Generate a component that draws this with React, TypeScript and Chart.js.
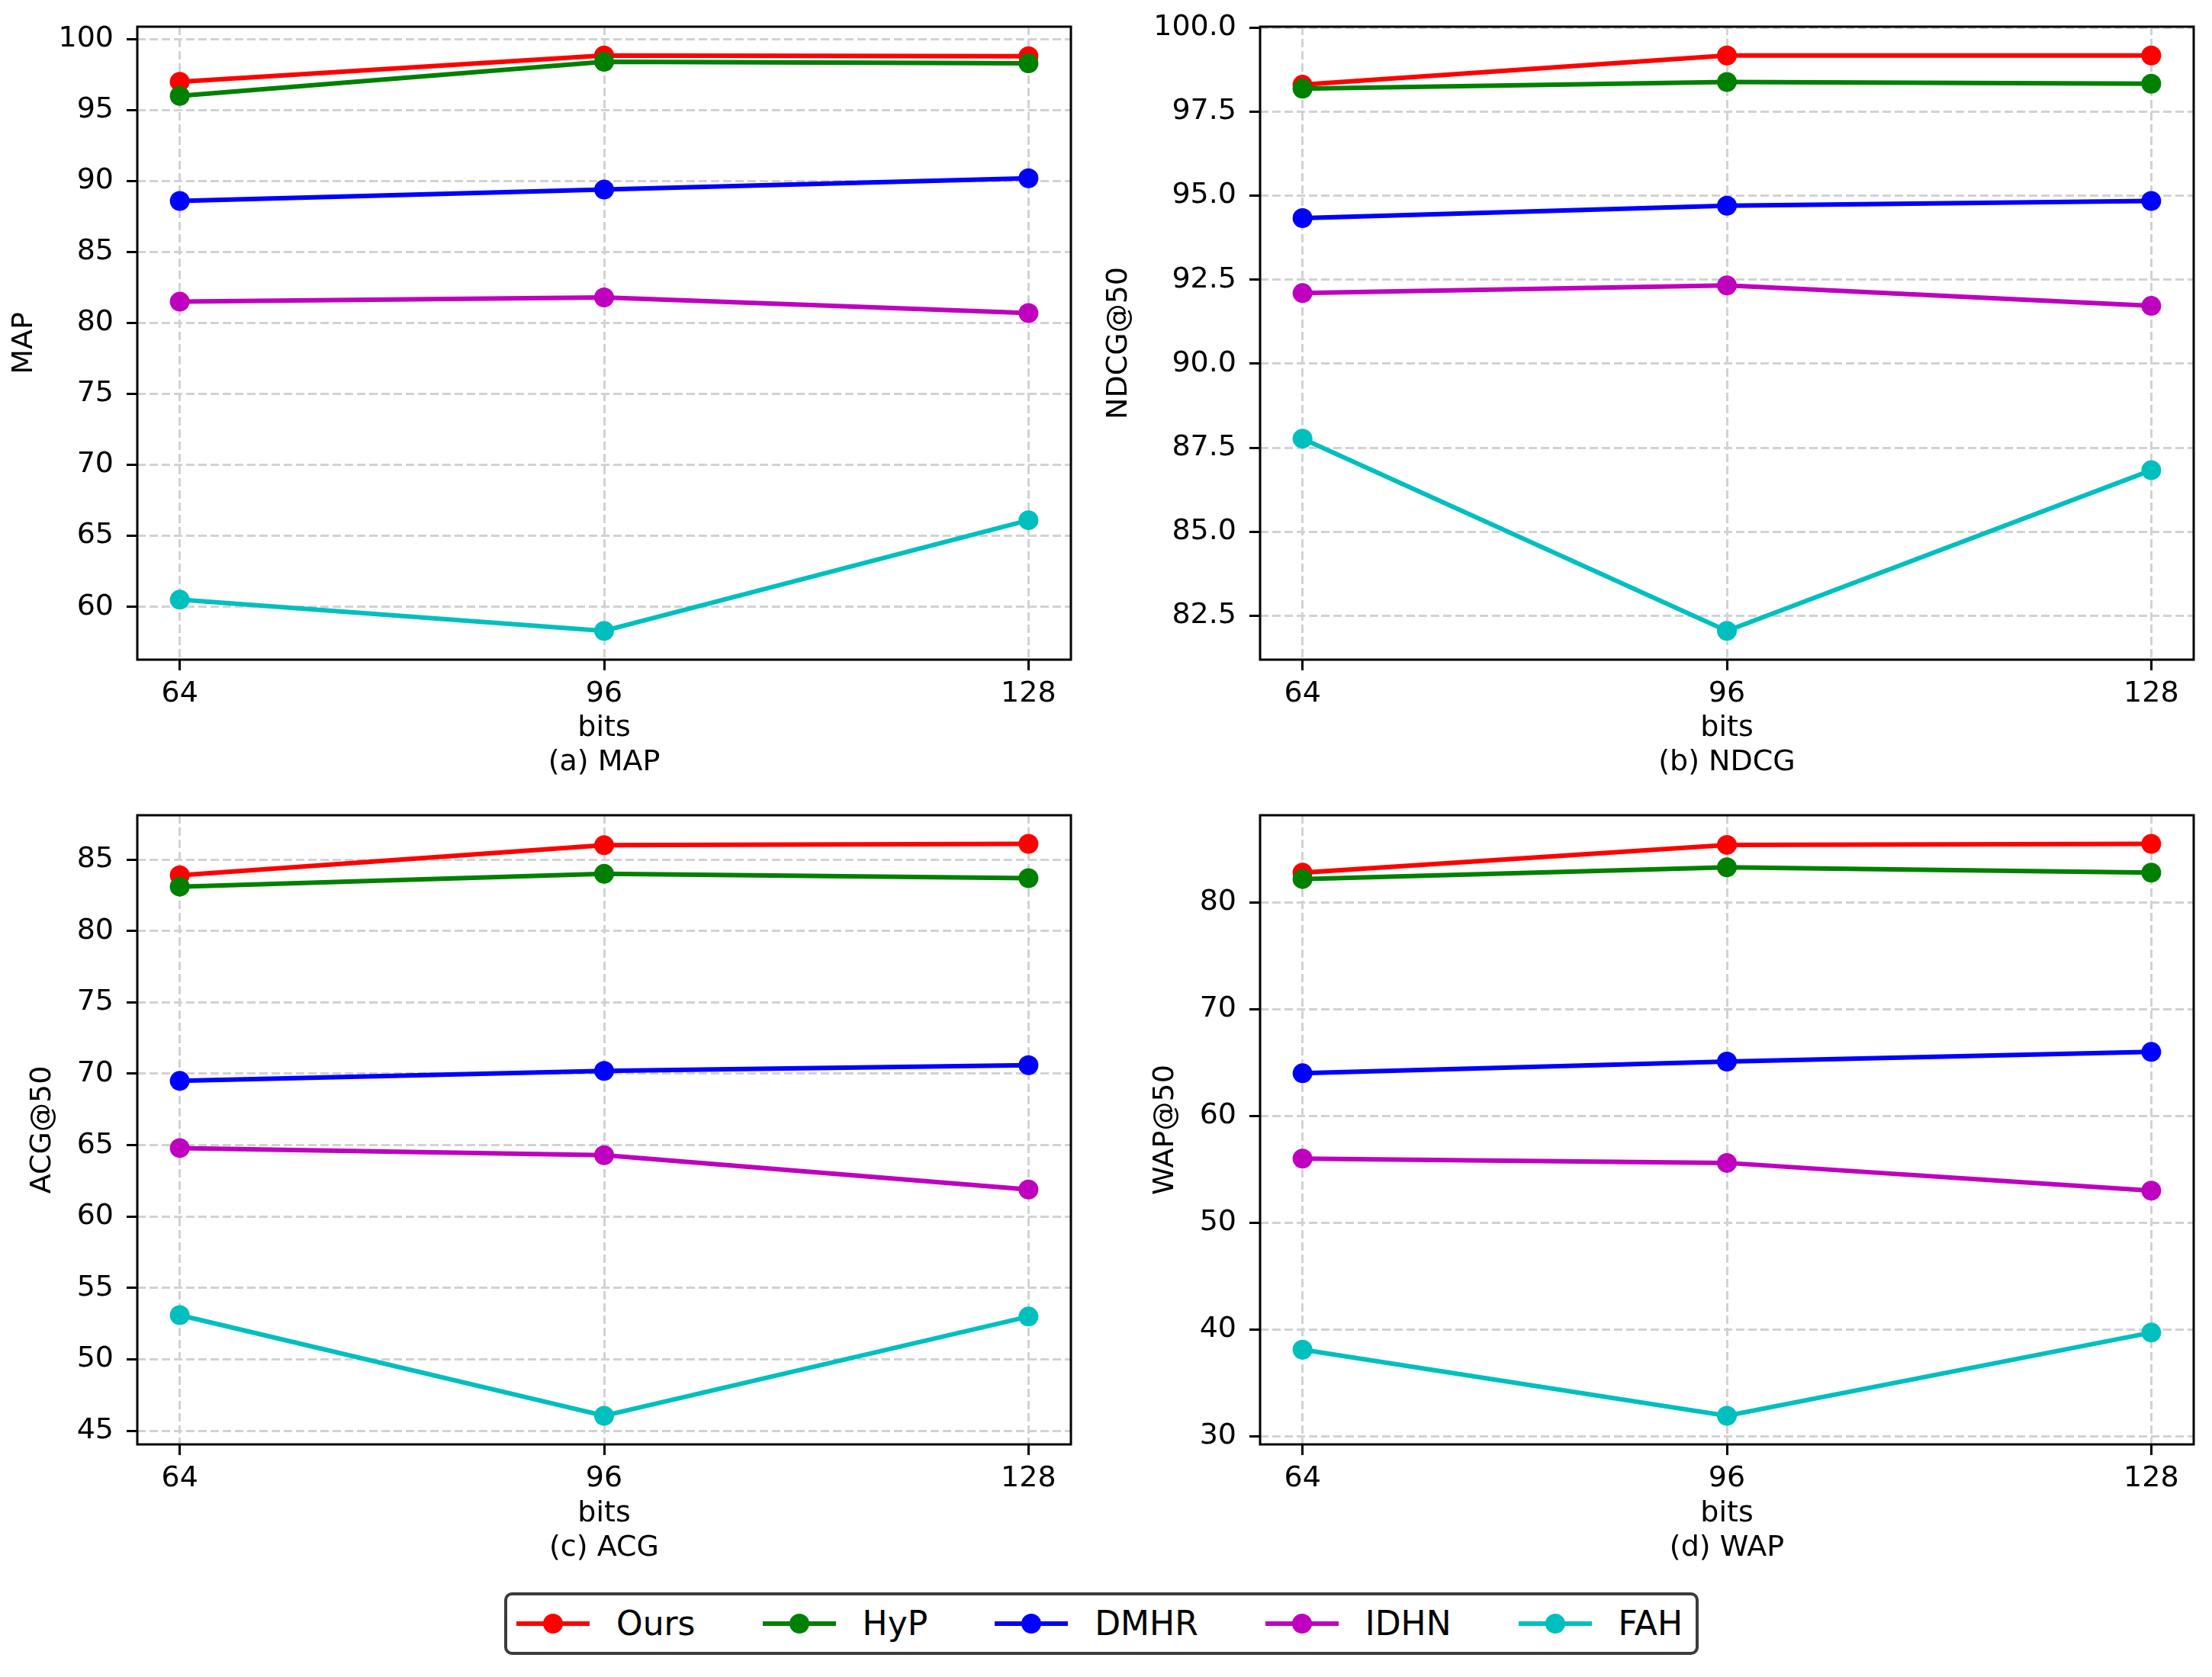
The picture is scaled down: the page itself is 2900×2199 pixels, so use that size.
import React, { useEffect, useRef } from 'react';
import { Chart, registerables } from 'chart.js';

Chart.register(...registerables);

const FONT = "'DejaVu Sans', 'Noto Sans', sans-serif";

// ---------- data ----------
const bits = [64, 96, 128];
const seriesNames = ['Ours', 'HyP', 'DMHR', 'IDHN', 'FAH'];
const seriesColors = ['#ff0000', '#008000', '#0000ff', '#bf00bf', '#00bfbf'];

// (a) MAP
const mapOurs = [97.0, 98.85, 98.8];
const mapHyP = [96.0, 98.4, 98.3];
const mapDMHR = [88.6, 89.4, 90.2];
const mapIDHN = [81.5, 81.8, 80.7];
const mapFAH = [60.5, 58.3, 66.1];
const mapTicks = [60, 65, 70, 75, 80, 85, 90, 95, 100];

// (b) NDCG@50
const ndcgOurs = [98.3, 99.17, 99.17];
const ndcgHyP = [98.18, 98.38, 98.33];
const ndcgDMHR = [94.33, 94.7, 94.84];
const ndcgIDHN = [92.1, 92.33, 91.72];
const ndcgFAH = [87.77, 82.05, 86.83];
const ndcgTicks = [82.5, 85.0, 87.5, 90.0, 92.5, 95.0, 97.5, 100.0];

// (c) ACG@50
const acgOurs = [83.9, 86.0, 86.1];
const acgHyP = [83.1, 84.0, 83.7];
const acgDMHR = [69.5, 70.2, 70.6];
const acgIDHN = [64.8, 64.3, 61.9];
const acgFAH = [53.1, 46.05, 53.0];
const acgTicks = [45, 50, 55, 60, 65, 70, 75, 80, 85];

// (d) WAP@50
const wapOurs = [82.8, 85.4, 85.5];
const wapHyP = [82.2, 83.3, 82.8];
const wapDMHR = [64.0, 65.1, 66.0];
const wapIDHN = [56.0, 55.6, 53.0];
const wapFAH = [38.1, 31.9, 39.7];
const wapTicks = [30, 40, 50, 60, 70, 80];

// ---------- styling ----------
const TICK_SIZE = 38;
const TITLE_SIZE = 38;
const TITLE_LH = 45;
const LINE_W = 6;
const POINT_R = 13;

type Rect = { l: number; t: number; r: number; b: number };

type PanelProps = {
  left: number;
  top: number;
  width: number;
  height: number;
  plot: Rect;
  yTitle: string;
  yTitleX: number;
  caption: string;
  captionY: number;
  series: number[][];
  yTicks: number[];
  decimals: number;
};

const framePlugin = {
  id: 'frame',
  afterDraw(chart: any) {
    const { ctx, chartArea: a } = chart;
    ctx.save();
    ctx.strokeStyle = '#000';
    ctx.lineWidth = 3;
    ctx.strokeRect(a.left, a.top, a.right - a.left, a.bottom - a.top);
    ctx.restore();
  },
};

function Panel(p: PanelProps) {
  const ref = useRef<HTMLCanvasElement | null>(null);

  useEffect(() => {
    if (!ref.current) return;
    const all = p.series.flat();
    const dMin = Math.min(...all);
    const dMax = Math.max(...all);
    const yPad = (dMax - dMin) * 0.05;
    const xPad = (bits[bits.length - 1] - bits[0]) * 0.05;

    const datasets = p.series.map((vals, i) => ({
      label: seriesNames[i],
      data: vals.map((v, j) => ({ x: bits[j], y: v })),
      borderColor: seriesColors[i],
      backgroundColor: seriesColors[i],
      pointBackgroundColor: seriesColors[i],
      pointBorderColor: seriesColors[i],
      pointBorderWidth: 0,
      pointRadius: POINT_R,
      pointHoverRadius: POINT_R,
      borderWidth: LINE_W,
      tension: 0,
      fill: false,
      order: p.series.length - i,
    }));

    const gridCommon = {
      color: '#d2d2d2',
      lineWidth: 3,
      drawTicks: true,
      tickLength: 14,
      tickColor: '#000',
      tickWidth: 3,
      tickBorderDash: [],
    };

    const chart = new Chart(ref.current, {
      type: 'line',
      data: { datasets },
      plugins: [framePlugin],
      options: {
        responsive: false,
        animation: false,
        devicePixelRatio: 1,
        events: [],
        layout: {
          padding: {
            top: p.plot.t - p.top,
            right: p.left + p.width - p.plot.r,
            bottom: 0,
            left: 0,
          },
        },
        plugins: {
          legend: { display: false },
          tooltip: { enabled: false },
        },
        scales: {
          x: {
            type: 'linear',
            min: bits[0] - xPad,
            max: bits[bits.length - 1] + xPad,
            afterBuildTicks: (s: any) => {
              s.ticks = bits.map((v) => ({ value: v }));
            },
            afterFit: (s: any) => {
              s.height = p.top + p.height - p.plot.b;
            },
            ticks: {
              autoSkip: false,
              maxRotation: 0,
              padding: 8,
              color: '#000',
              font: { family: FONT, size: TICK_SIZE },
              callback: (v: any) => String(v),
            },
            grid: gridCommon,
            border: { display: false, dash: [11, 5] },
            title: {
              display: true,
              text: ['bits', p.caption],
              color: '#000',
              font: { family: FONT, size: TITLE_SIZE, lineHeight: TITLE_LH / TITLE_SIZE },
              padding: { top: 0, bottom: p.top + p.height - p.captionY - TITLE_LH / 2 },
            },
          },
          y: {
            type: 'linear',
            min: dMin - yPad,
            max: dMax + yPad,
            afterBuildTicks: (s: any) => {
              s.ticks = p.yTicks.map((v) => ({ value: v }));
            },
            afterFit: (s: any) => {
              s.width = p.plot.l - p.left;
            },
            ticks: {
              autoSkip: false,
              padding: 17,
              color: '#000',
              font: { family: FONT, size: TICK_SIZE },
              callback: (v: any) => Number(v).toFixed(p.decimals),
            },
            grid: gridCommon,
            border: { display: false, dash: [11, 5] },
            title: {
              display: true,
              text: p.yTitle,
              color: '#000',
              font: { family: FONT, size: TITLE_SIZE, lineHeight: TITLE_LH / TITLE_SIZE },
              padding: { top: p.yTitleX - p.left - TITLE_LH / 2, bottom: 0 },
            },
          },
        },
      },
    } as any);

    return () => chart.destroy();
  }, []);

  return (
    <canvas
      ref={ref}
      width={p.width}
      height={p.height}
      style={{
        position: 'absolute',
        left: p.left,
        top: p.top,
        width: p.width,
        height: p.height,
      }}
    />
  );
}

function LegendBox() {
  return (
    <div
      style={{
        position: 'absolute',
        left: 661,
        top: 2088,
        width: 1566,
        height: 82,
        boxSizing: 'border-box',
        border: '4px solid #3c3c3c',
        borderRadius: 10,
        background: '#fff',
        display: 'flex',
        alignItems: 'center',
        paddingLeft: 12,
        fontFamily: FONT,
        fontSize: 44,
        color: '#000',
      }}
    >
      {seriesNames.map((name, i) => (
        <div
          key={name}
          style={{
            display: 'flex',
            alignItems: 'center',
            marginRight: i < seriesNames.length - 1 ? 88 : 0,
          }}
        >
          <svg width={96} height={30} style={{ marginRight: 35, display: 'block' }}>
            <line x1={0} y1={15} x2={96} y2={15} stroke={seriesColors[i]} strokeWidth={LINE_W} />
            <circle cx={48} cy={15} r={POINT_R} fill={seriesColors[i]} />
          </svg>
          <span style={{ lineHeight: '50px', whiteSpace: 'nowrap' }}>{name}</span>
        </div>
      ))}
    </div>
  );
}

export default function App() {
  return (
    <div
      style={{
        position: 'absolute',
        left: 0,
        top: 0,
        width: 2900,
        height: 2199,
        background: '#fff',
        overflow: 'hidden',
      }}
    >
      <Panel
        left={0}
        top={-30}
        width={1420}
        height={1080}
        plot={{ l: 180, t: 35, r: 1404, b: 865 }}
        yTitle="MAP"
        yTitleX={32}
        caption="(a) MAP"
        captionY={1000}
        series={[mapOurs, mapHyP, mapDMHR, mapIDHN, mapFAH]}
        yTicks={mapTicks}
        decimals={0}
      />
      <Panel
        left={1420}
        top={-30}
        width={1480}
        height={1080}
        plot={{ l: 1652, t: 35, r: 2876, b: 865 }}
        yTitle="NDCG@50"
        yTitleX={1467}
        caption="(b) NDCG"
        captionY={1000}
        series={[ndcgOurs, ndcgHyP, ndcgDMHR, ndcgIDHN, ndcgFAH]}
        yTicks={ndcgTicks}
        decimals={1}
      />
      <Panel
        left={0}
        top={1000}
        width={1420}
        height={1090}
        plot={{ l: 180, t: 1069, r: 1404, b: 1894 }}
        yTitle="ACG@50"
        yTitleX={56}
        caption="(c) ACG"
        captionY={2030}
        series={[acgOurs, acgHyP, acgDMHR, acgIDHN, acgFAH]}
        yTicks={acgTicks}
        decimals={0}
      />
      <Panel
        left={1420}
        top={1000}
        width={1480}
        height={1090}
        plot={{ l: 1652, t: 1069, r: 2876, b: 1894 }}
        yTitle="WAP@50"
        yTitleX={1528}
        caption="(d) WAP"
        captionY={2030}
        series={[wapOurs, wapHyP, wapDMHR, wapIDHN, wapFAH]}
        yTicks={wapTicks}
        decimals={0}
      />
      <LegendBox />
    </div>
  );
}
